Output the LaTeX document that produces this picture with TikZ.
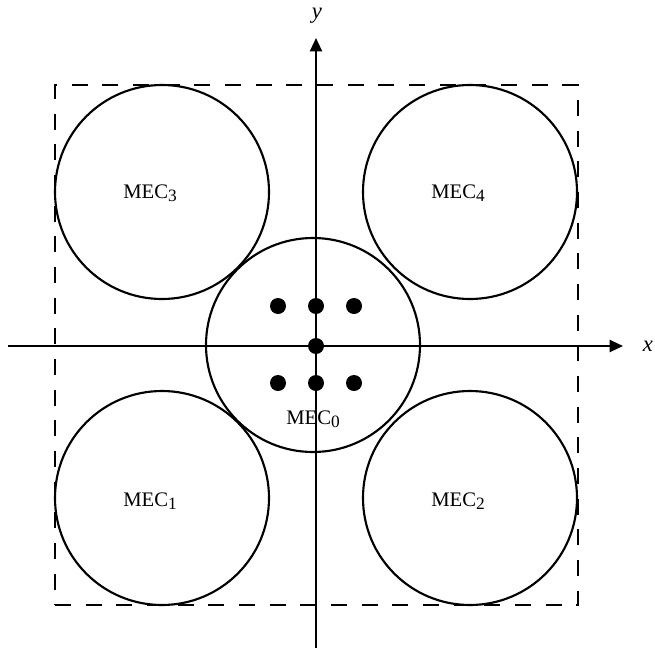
\documentclass[tikz,border=0pt]{standalone}
\usepackage{fontspec}
\setmainfont{Liberation Serif}
\usetikzlibrary{arrows.meta}
\newcommand{\mysub}[1]{\raisebox{-0.28ex}{\fontsize{13}{14}\selectfont #1}}
\begin{document}
\begin{tikzpicture}[x=0.75pt,y=-0.75pt,
  mec/.style={draw, circle, line width=1.6pt, minimum size=214pt*0.75, inner sep=0pt},
  dot/.style={fill, circle, minimum size=16pt*0.75, inner sep=0pt},
  axis/.style={line width=1.6pt, -{Triangle[length=10pt,width=9pt]}},
  lbl/.style={font=\fontsize{15.5}{17}\selectfont}]
\useasboundingbox (0,0) rectangle (655,657);
\node[draw, dash pattern=on 12pt off 11pt, line width=1.6pt, minimum width=523pt*0.75, minimum height=520pt*0.75, inner sep=0pt] (frame) at (316.5,345) {};
\node[mec] (c3) at (162,192) {};
\node[mec] (c4) at (470,192) {};
\node[mec] (c1) at (162,498) {};
\node[mec] (c2) at (470,498) {};
\node[mec] (c0) at (313,345) {};
\coordinate (xs) at (8,346);
\coordinate (xe) at (623,346);
\coordinate (ys) at (316,648);
\coordinate (ye) at (316,38);
\draw[axis] (xs) -- (xe);
\draw[axis] (ys) -- (ye);
\node[font=\fontsize{17}{19}\selectfont\itshape] (xl) at (648,346) {x};
\node[font=\fontsize{17}{19}\selectfont\itshape] (yl) at (317,16) {y};
\node[lbl] (l3) at (150,193) {MEC\mysub{3}};
\node[lbl] (l4) at (458,193) {MEC\mysub{4}};
\node[lbl] (l1) at (150,501) {MEC\mysub{1}};
\node[lbl] (l2) at (458,501) {MEC\mysub{2}};
\node[lbl] (l0) at (313,419) {MEC\mysub{0}};
\node[dot] (d1) at (278,306) {};
\node[dot] (d2) at (316,306) {};
\node[dot] (d3) at (354,306) {};
\node[dot] (d4) at (316,346) {};
\node[dot] (d5) at (278,383) {};
\node[dot] (d6) at (316,383) {};
\node[dot] (d7) at (354,383) {};
\end{tikzpicture}
\end{document}
